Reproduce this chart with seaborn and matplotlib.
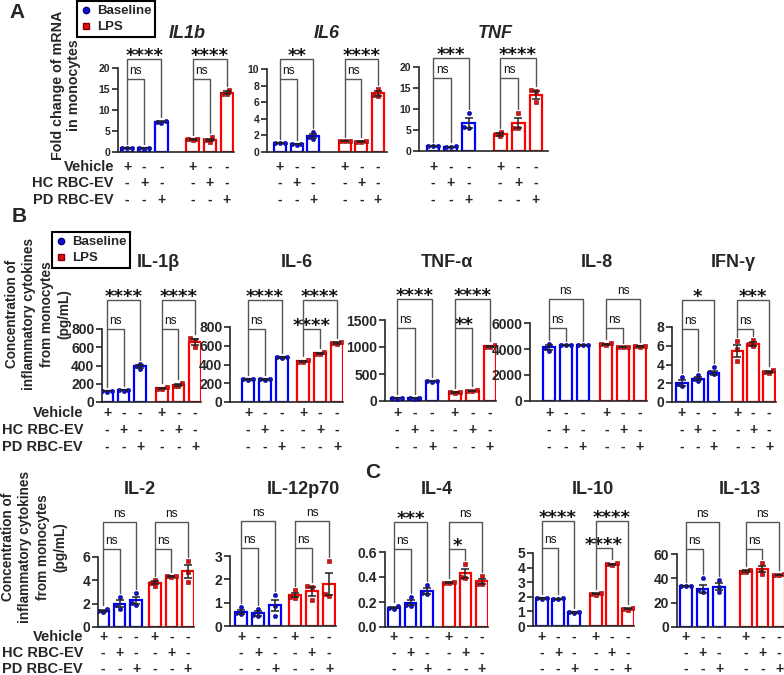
import numpy as np
import pandas as pd
import matplotlib
matplotlib.use("Agg")
import matplotlib.pyplot as plt
import seaborn as sns
from matplotlib.lines import Line2D
from matplotlib.transforms import blended_transform_factory as btf

# ---------------- data ----------------
conditions = ["Baseline"] * 3 + ["LPS"] * 3
vehicle_row = ["+", "-", "-", "+", "-", "-"]
hc_row = ["-", "+", "-", "-", "+", "-"]
pd_row = ["-", "-", "+", "-", "-", "+"]
row_names = ["Vehicle", "HC RBC-EV", "PD RBC-EV"]

# Panel A: mRNA fold change
il1b_mrna_mean = [1.0, 0.9, 7.2, 3.0, 2.9, 14.1]
il1b_mrna_pts = [[1.0, 1.05, 0.95], [0.8, 1.0, 0.9], [7.0, 7.5, 7.1],
                 [3.0, 3.2, 2.8], [2.5, 3.5, 2.8], [13.8, 14.8, 13.9]]
il6_mrna_mean = [1.05, 0.95, 1.95, 1.35, 1.25, 7.05]
il6_mrna_pts = [[1.05, 1.05, 1.05], [0.9, 1.0, 0.95], [1.6, 2.4, 1.85],
                [1.35, 1.35, 1.35], [1.2, 1.3, 1.25], [6.7, 7.6, 6.9]]
tnf_mrna_mean = [1.1, 1.0, 6.7, 4.0, 6.7, 13.3]
tnf_mrna_pts = [[1.1, 1.1, 1.1], [0.9, 1.1, 1.0], [9.1, 5.4, 5.6],
                [4.6, 4.0, 3.5], [9.1, 5.5, 5.4], [14.5, 14.2, 11.7]]

# Panel B/C: cytokine concentrations (pg/mL)
il1b_mean = [120, 130, 390, 150, 190, 660]
il1b_pts = [[115, 120, 125], [125, 130, 135], [420, 390, 360],
            [160, 145, 140], [210, 180, 175], [700, 680, 600]]
il6_mean = [240, 240, 475, 435, 520, 630]
il6_pts = [[245, 235, 240], [245, 235, 240], [480, 470, 475],
           [445, 430, 430], [535, 515, 510], [645, 625, 620]]
tnf_mean = [50, 50, 365, 160, 185, 1010]
tnf_pts = [[50, 45, 55], [50, 45, 55], [370, 360, 365],
           [170, 150, 160], [195, 180, 180], [1030, 1000, 1000]]
il8_mean = [4120, 4330, 4280, 4380, 4180, 4200]
il8_pts = [[4400, 3850, 4100], [4330, 4330, 4330], [4280, 4280, 4280],
           [4450, 4330, 4360], [4180, 4180, 4180], [4200, 4150, 4250]]
ifng_mean = [2.0, 2.5, 3.1, 5.45, 6.2, 3.2]
ifng_pts = [[2.7, 1.95, 1.7], [2.85, 2.5, 2.25], [3.7, 3.2, 3.0],
            [6.5, 5.7, 4.4], [6.6, 6.2, 6.0], [3.4, 3.2, 3.1]]
il2_mean = [1.37, 2.0, 2.28, 3.8, 4.34, 4.77]
il2_pts = [[1.57, 1.35, 1.3], [2.57, 1.86, 1.57], [2.9, 2.1, 1.9],
           [4.0, 3.77, 3.55], [4.34, 4.34, 4.3], [5.7, 4.7, 3.85]]
il12_mean = [0.61, 0.55, 0.88, 1.33, 1.49, 1.8]
il12_pts = [[0.8, 0.56, 0.52], [0.75, 0.47, 0.43], [1.32, 0.85, 0.45],
            [1.54, 1.26, 1.22], [1.7, 1.68, 1.1], [2.77, 1.39, 1.3]]
il4_mean = [0.155, 0.195, 0.29, 0.355, 0.43, 0.365]
il4_pts = [[0.165, 0.155, 0.148], [0.237, 0.18, 0.17], [0.336, 0.27, 0.265],
           [0.36, 0.355, 0.35], [0.503, 0.40, 0.395], [0.409, 0.345, 0.343]]
il10_mean = [1.9, 1.86, 0.93, 2.2, 4.24, 1.17]
il10_pts = [[1.95, 1.9, 1.85], [1.9, 1.86, 1.82], [0.95, 0.93, 0.92],
            [2.27, 2.2, 2.15], [4.3, 4.24, 4.2], [1.24, 1.17, 1.12]]
il13_mean = [34, 31.2, 33.1, 46, 47.5, 42.8]
il13_pts = [[34, 34, 34], [40, 30.4, 28.5], [38.7, 33, 29],
            [47, 45.6, 45], [52.5, 47, 43.4], [43.2, 42.8, 42.4]]

sig_il1b_mrna = [(0, 1, "ns", 0), (0, 2, "****", 1), (3, 4, "ns", 0), (3, 5, "****", 1)]
sig_il6_mrna = [(0, 1, "ns", 0), (0, 2, "**", 1), (3, 4, "ns", 0), (3, 5, "****", 1)]
sig_tnf_mrna = [(0, 1, "ns", 0), (0, 2, "***", 1), (3, 4, "ns", 0), (3, 5, "****", 1)]
sig_il1b = [(0, 1, "ns", 0), (0, 2, "****", 1), (3, 4, "ns", 0), (3, 5, "****", 1)]
sig_il6 = [(0, 1, "ns", 0), (0, 2, "****", 1), (3, 4, "****", 0), (3, 5, "****", 1)]
sig_tnf = [(0, 1, "ns", 0), (0, 2, "****", 1), (3, 4, "**", 0), (3, 5, "****", 1)]
sig_il8 = [(0, 1, "ns", 0), (0, 2, "ns", 1), (3, 4, "ns", 0), (3, 5, "ns", 1)]
sig_ifng = [(0, 1, "ns", 0), (0, 2, "*", 1), (3, 4, "ns", 0), (3, 5, "***", 1)]
sig_il2 = [(0, 1, "ns", 0), (0, 2, "ns", 1), (3, 4, "ns", 0), (3, 5, "ns", 1)]
sig_il12 = [(0, 1, "ns", 0), (0, 2, "ns", 1), (3, 4, "ns", 0), (3, 5, "ns", 1)]
sig_il4 = [(0, 1, "ns", 0), (0, 2, "***", 1), (3, 4, "*", 0), (3, 5, "ns", 1)]
sig_il10 = [(0, 1, "ns", 0), (0, 2, "****", 1), (3, 4, "****", 0), (3, 5, "****", 1)]
sig_il13 = [(0, 1, "ns", 0), (0, 2, "ns", 1), (3, 4, "ns", 0), (3, 5, "ns", 1)]

# ---------------- style ----------------
sns.set_theme(style="ticks")
plt.rcParams["font.family"] = ["Liberation Sans", "DejaVu Sans"]
plt.rcParams["font.weight"] = "bold"
plt.rcParams["axes.linewidth"] = 1.2

W, H = 784, 675
fig = plt.figure(figsize=(W / 100, H / 100), dpi=100)
pal = {"Baseline": "#0000ff", "LPS": "#ff0000"}
pt_style = {"Baseline": dict(color="#1010d0", marker="o", edgecolor="#000080"),
            "LPS": dict(color="#d81010", marker="s", edgecolor="#8a0000")}


def fy(ypix):
    return 1 - ypix / H


def panel(box, gap, means, pts, ylim, yticks, sigs, levels, tickfs, rows_y):
    axL, first, last, axR, top, bot = box
    unit = (last - first) / (5 + gap)
    pos = np.array([0, 1, 2, 3 + gap, 4 + gap, 5 + gap])
    ax = fig.add_axes([axL / W, fy(bot), (axR - axL) / W, (bot - top) / H])
    df = pd.DataFrame({"pos": pos, "mean": means, "cond": conditions})
    sns.barplot(data=df, x="pos", y="mean", hue="cond", palette=pal,
                native_scale=True, fill=False, linewidth=1.6, width=0.72,
                dodge=False, errorbar=None, legend=False, ax=ax, zorder=2)
    pts = np.array(pts, dtype=float)
    sem = pts.std(axis=1, ddof=1) / np.sqrt(3)
    for g, cond in ((slice(0, 3), "Baseline"), (slice(3, 6), "LPS")):
        d = pd.DataFrame({"pos": np.repeat(pos[g], 3), "val": pts[g].ravel()})
        st = pt_style[cond]
        sns.swarmplot(data=d, x="pos", y="val", native_scale=True, orient="x",
                      color=st["color"], marker=st["marker"], size=3.0,
                      edgecolor=st["edgecolor"], linewidth=0.4, ax=ax, zorder=4)
    ax.errorbar(pos, means, yerr=sem, fmt="none", ecolor="#222222",
                elinewidth=1.1, capsize=3, capthick=1.1, zorder=5)
    ax.set_xlim(-(first - axL) / unit, pos[-1] + (axR - last) / unit)
    ax.set_ylim(*ylim)
    ax.set_yticks(yticks)
    ax.set_xticks([])
    ax.set_xlabel("")
    ax.set_ylabel("")
    sns.despine(ax=ax)
    ax.tick_params(axis="y", length=4, width=1.2, pad=1.5, labelsize=tickfs)
    for lab in ax.get_yticklabels():
        lab.set_fontweight("bold")
    # significance brackets
    hpx = bot - top
    tr = btf(ax.transData, ax.transAxes)
    tops = [max(pts[k].max(), means[k] + sem[k]) / ylim[1] + 4 / hpx for k in range(6)]
    lv = [levels[0] / hpx, levels[1] / hpx]
    inner_left = {i for (i, j, t, l) in sigs if l == 0}
    for i, j, txt, l in sigs:
        yl = lv[l]
        lb = lv[0] if (l == 1 and i in inner_left) else tops[i]
        rb = tops[j]
        ax.plot([pos[i], pos[i], pos[j], pos[j]], [lb, yl, yl, rb], transform=tr,
                color="#555555", lw=1.0, clip_on=False, zorder=3)
        xm = (pos[i] + pos[j]) / 2
        if txt == "ns":
            ax.annotate(txt, xy=(xm, yl), xycoords=tr, xytext=(0, 3.5),
                        textcoords="offset points", ha="center", va="baseline",
                        fontsize=8.5, fontweight="normal", color="#111111")
        else:
            ax.annotate(txt, xy=(xm, yl), xycoords=tr, xytext=(0, -1.5),
                        textcoords="offset points", ha="center", va="baseline",
                        fontsize=13, fontweight="bold", family="DejaVu Sans",
                        color="#111111")
    # +/- rows
    trf = btf(ax.transData, fig.transFigure)
    for signs, ry in zip((vehicle_row, hc_row, pd_row), rows_y):
        for k in range(6):
            ax.text(pos[k], fy(ry), signs[k], transform=trf, ha="center",
                    va="center", fontsize=10, fontweight="bold")
    return ax


def title(x, y, txt, italic=False):
    fig.text(x / W, fy(y), txt, ha="center", va="center", fontsize=13,
             fontweight="bold", style="italic" if italic else "normal")


def row_labels(xr, rows_y):
    for name, ry in zip(row_names, rows_y):
        fig.text(xr / W, fy(ry), name, ha="right", va="center",
                 fontsize=10.5, fontweight="bold")


def legend(x, y):
    handles = [Line2D([], [], ls="none", marker="o", color="#1010d0", ms=4.5,
                      mec="#000080"),
               Line2D([], [], ls="none", marker="s", color="#d81010", ms=4.5,
                      mec="#8a0000")]
    leg = fig.legend(handles, ["Baseline", "LPS"], loc="upper left",
                     bbox_to_anchor=(x / W, fy(y)), frameon=True, fancybox=False,
                     edgecolor="black", framealpha=1, borderpad=0.3,
                     handlelength=0.7, handletextpad=0.5, labelspacing=0.3,
                     borderaxespad=0, prop={"weight": "bold", "size": 9.5})
    leg.get_frame().set_linewidth(1.5)


# ---------------- Panel A ----------------
rowsA = (167, 183, 200)
lvA = (73, 93)
panel((118, 127, 227, 234, 68, 152), 0.8, il1b_mrna_mean, il1b_mrna_pts,
      (0, 20), [0, 5, 10, 15, 20], sig_il1b_mrna, lvA, 7.5, rowsA)
panel((267, 280, 378, 387, 69, 152), 0.9, il6_mrna_mean, il6_mrna_pts,
      (0, 10), [0, 2, 4, 6, 8, 10], sig_il6_mrna, lvA, 7.5, rowsA)
panel((419, 433, 536, 548, 67, 151), 0.75, tnf_mrna_mean, tnf_mrna_pts,
      (0, 20), [0, 5, 10, 15, 20], sig_tnf_mrna, lvA, 7.5, rowsA)
title(187, 33, "IL1b", italic=True)
title(327, 33, "IL6", italic=True)
title(495, 33, "TNF", italic=True)
row_labels(114, rowsA)
fig.text(66 / W, fy(85), "Fold change of mRNA\nin monocytes", rotation=90,
         ha="center", va="center", fontsize=10.3, fontweight="bold",
         multialignment="center", linespacing=1.15)
legend(77, 1)
fig.text(17 / W, fy(12), "A", ha="center", va="center", fontsize=15, fontweight="bold")

# ---------------- Panel B row 1 ----------------
rowsB1 = (413, 430, 447)
lvB1 = (73, 102)
panel((102, 107, 195, 201, 329, 402), 0.33, il1b_mean, il1b_pts,
      (0, 800), [0, 200, 400, 600, 800], sig_il1b, lvB1, 10, rowsB1)
panel((230, 248, 337, 343, 327, 402), 0.24, il6_mean, il6_pts,
      (0, 800), [0, 200, 400, 600, 800], sig_il6, lvB1, 10, rowsB1)
panel((385, 397, 490, 496, 320, 401), 0.3, tnf_mean, tnf_pts,
      (0, 1500), [0, 500, 1000, 1500], sig_tnf, lvB1, 10, rowsB1)
panel((530, 549, 640, 647, 323, 401), 0.4, il8_mean, il8_pts,
      (0, 6000), [0, 2000, 4000, 6000], sig_il8, lvB1, 10, rowsB1)
panel((672, 682, 769, 776, 327, 402), 0.5, ifng_mean, ifng_pts,
      (0, 8), [0, 2, 4, 6, 8], sig_ifng, lvB1, 10, rowsB1)
title(158, 263, "IL-1β")
title(297, 263, "IL-6")
title(447, 263, "TNF-α")
title(597, 263, "IL-8")
title(733, 263, "IFN-γ")
row_labels(83, rowsB1)
ylabB = "Concentration of\ninflammatory cytokines\nfrom monocytes\n(pg/mL)"
fig.text(38 / W, fy(314), ylabB, rotation=90, ha="center", va="center",
         fontsize=9.8, fontweight="bold", multialignment="center", linespacing=1.3)
legend(52, 232)
fig.text(19 / W, fy(217), "B", ha="center", va="center", fontsize=15, fontweight="bold")

# ---------------- Panel B row 2 / C ----------------
rowsB2 = (637, 653, 669)
lvB2 = (78, 105)
panel((98, 103, 188, 194, 557, 627), 0.15, il2_mean, il2_pts,
      (0, 6), [0, 2, 4, 6], sig_il2, lvB2, 10, rowsB2)
panel((230, 241, 329, 336, 556, 626), 0.15, il12_mean, il12_pts,
      (0, 3), [0, 1, 2, 3], sig_il12, lvB2, 10, rowsB2)
panel((385, 394, 482, 488, 552, 627), 0.33, il4_mean, il4_pts,
      (0, 0.6), [0.0, 0.2, 0.4, 0.6], sig_il4, lvB2, 10, rowsB2)
panel((533, 542, 628, 634, 553, 626), 0.37, il10_mean, il10_pts,
      (0, 5), [0, 1, 2, 3, 4, 5], sig_il10, lvB2, 10, rowsB2)
panel((677, 686, 779, 784, 554, 627), 0.63, il13_mean, il13_pts,
      (0, 60), [0, 20, 40, 60], sig_il13, lvB2, 10, rowsB2)
title(140, 490, "IL-2")
title(303, 490, "IL-12p70")
title(437, 490, "IL-4")
title(593, 490, "IL-10")
title(740, 490, "IL-13")
row_labels(83, rowsB2)
fig.text(34 / W, fy(547), ylabB, rotation=90, ha="center", va="center",
         fontsize=9.8, fontweight="bold", multialignment="center", linespacing=1.3)
fig.text(373 / W, fy(473), "C", ha="center", va="center", fontsize=15, fontweight="bold")

fig.savefig("out.png", dpi=100)
